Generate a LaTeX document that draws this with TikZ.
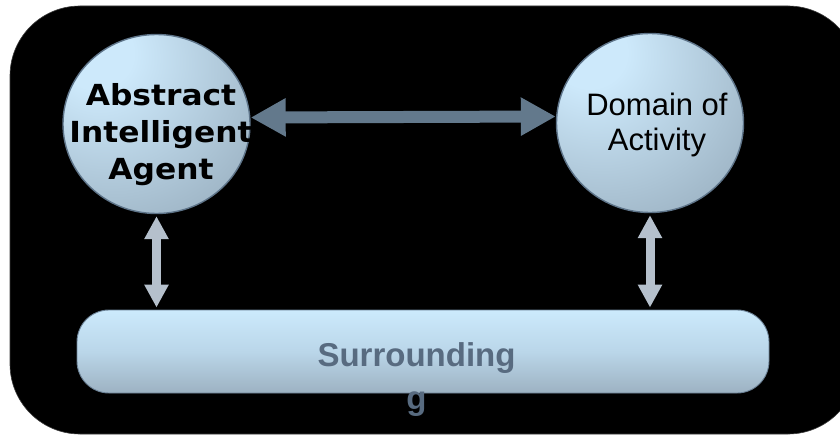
\documentclass[tikz,border=0pt]{standalone}
\usepackage{fontspec}
\setmainfont{Liberation Sans}
\newfontfamily\agentfont[FakeStretch=1.08]{DejaVu Sans}
\usetikzlibrary{arrows.meta,shapes.geometric}

\definecolor{slate}{HTML}{63798C}
\definecolor{paleslate}{HTML}{B5C0CC}
\definecolor{orbedge}{HTML}{5E7489}
\definecolor{orbhi}{HTML}{CDE9FB}
\definecolor{orblo}{HTML}{8A9EAE}
\definecolor{bartop}{HTML}{CCEAFC}
\definecolor{barmid}{HTML}{BAD6E9}
\definecolor{barbot}{HTML}{9DB2C2}
\definecolor{baredge}{HTML}{6B8195}
\definecolor{bartext}{HTML}{586B80}

% soft sphere-like fill, brightest towards the upper left
\pgfdeclareradialshading{orbglow}{\pgfpoint{-18bp}{22bp}}{%
  color(0bp)=(orbhi); color(10bp)=(orbhi); color(58bp)=(orblo); color(100bp)=(orblo)}

\tikzset{
  orb/.style={ellipse, minimum width=187pt, minimum height=179pt, inner sep=0pt,
    shading=orbglow, draw=orbedge, line width=1.4pt},
  band/.style={rectangle, rounded corners=32pt, minimum width=692pt, minimum height=83pt,
    top color=bartop, bottom color=barbot, middle color=barmid, draw=baredge, line width=0.9pt},
  biglink/.style={draw=slate, line width=12pt,
    {Triangle[length=35pt,width=36pt,fill=slate]}-{Triangle[length=35pt,width=36pt,fill=slate]}},
  smalllink/.style={draw=paleslate, line width=9pt,
    {Triangle[length=23pt,width=23pt,fill=paleslate]}-{Triangle[length=23pt,width=23pt,fill=paleslate]}},
  agenttext/.style={align=center, inner sep=0pt, font=\agentfont\bfseries\fontsize{29}{37}\selectfont},
  domaintext/.style={align=center, inner sep=0pt, font=\fontsize{31}{35}\selectfont},
  bandtext/.style={align=center, inner sep=0pt, text=bartext, font=\bfseries\fontsize{33}{43}\selectfont},
}

\begin{document}
\begin{tikzpicture}[x=1pt,y=-1pt]
  \useasboundingbox (0,0) rectangle (840,436);

  % black backdrop panel
  \fill[black, draw={rgb,255:red,60;green,60;blue,60}, line width=0.6pt,
        rounded corners=70pt] (10,6) rectangle (858,434);

  % shapes
  \node[orb] (agent) at (156.5,124) {};
  \node[orb] (domain) at (650,123) {};
  \node[band] (bar) at (423,351.5) {};

  % labels
  \node[agenttext] (agentlabel) at (161,134.5) {Abstract\\Intelligent\\Agent};
  \node[domaintext] (domainlabel) at (657,124.5) {Domain of\\Activity};
  \node[bandtext] (barlabel) at (416.5,379.5) {Surrounding\\g};

  % connectors
  \draw[biglink] ([yshift=6.5pt]agent.east) -- ([yshift=6.5pt]domain.west);
  \draw[smalllink, shorten <=2pt, shorten >=2pt] (agent.south) -- (agent.south |- bar.north);
  \draw[smalllink, shorten <=2pt, shorten >=2pt] (domain.south) -- (domain.south |- bar.north);
\end{tikzpicture}
\end{document}
